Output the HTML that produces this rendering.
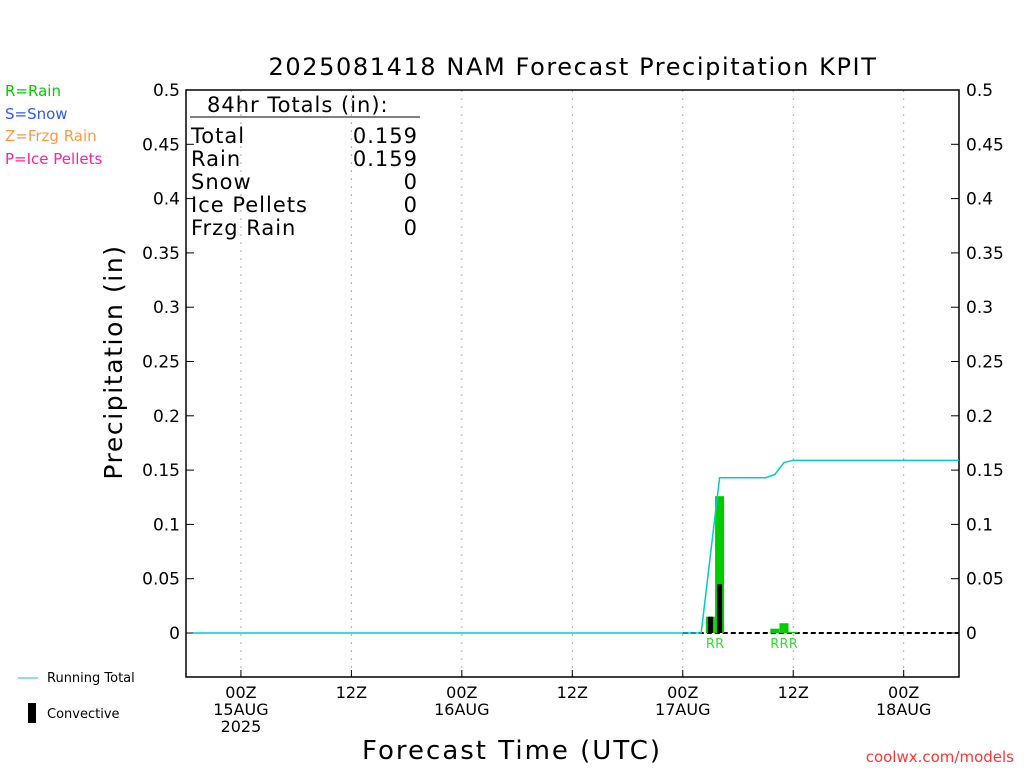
<!DOCTYPE html>
<html><head><meta charset="utf-8"><style>
body{margin:0;background:#fff;}
svg text{font-family:"DejaVu Sans","Liberation Sans",sans-serif;}
</style></head><body>
<svg width="1024" height="768" xmlns="http://www.w3.org/2000/svg" id="chart">
<text x="573" y="75" font-size="24" letter-spacing="1.6" text-anchor="middle">2025081418 NAM Forecast Precipitation KPIT</text>
<g font-size="15">
<text x="5" y="96" fill="#00cc00">R=Rain</text>
<text x="5" y="119" fill="#3355ff">S=Snow</text>
<text x="5" y="141" fill="#ff9944">Z=Frzg Rain</text>
<text x="5" y="164" fill="#ff2299">P=Ice Pellets</text>
</g>
<g id="grid"></g>
<rect x="186" y="90" width="773" height="587" fill="none" stroke="#000" stroke-width="1.5"/>
<g font-size="21" letter-spacing="1">
<text x="207" y="112">84hr Totals (in):</text>
<line x1="190" y1="117" x2="420" y2="117" stroke="#000"/>
<text x="191" y="143">Total</text><text x="418" y="143" text-anchor="end">0.159</text>
<text x="191" y="166">Rain</text><text x="418" y="166" text-anchor="end">0.159</text>
<text x="191" y="189">Snow</text><text x="418" y="189" text-anchor="end">0</text>
<text x="191" y="212">Ice Pellets</text><text x="418" y="212" text-anchor="end">0</text>
<text x="191" y="235">Frzg Rain</text><text x="418" y="235" text-anchor="end">0</text>
</g>
<g id="axes"></g>
<g id="marks"></g>
<text transform="translate(122,362) rotate(-90)" font-size="25" letter-spacing="1.6" text-anchor="middle">Precipitation (in)</text>
<text x="512" y="759" font-size="26" letter-spacing="2" text-anchor="middle">Forecast Time (UTC)</text>
<g font-size="13">
<line x1="18" y1="678" x2="38" y2="678" stroke="#00cccc"/>
<text x="47" y="682">Running Total</text>
<rect x="28" y="703" width="8" height="20" fill="#000"/>
<text x="47" y="718">Convective</text>
</g>
<text x="1014" y="762" font-size="15" fill="#ff3333" text-anchor="end">coolwx.com/models</text>
</svg>
<script>
const yTicks=[0,0.05,0.1,0.15,0.2,0.25,0.3,0.35,0.4,0.45,0.5];
const xTickHours=[6,18,30,42,54,66,78];
const xTickLabels=[["00Z","15AUG","2025"],["12Z"],["00Z","16AUG"],["12Z"],["00Z","17AUG"],["12Z"],["00Z","18AUG"]];
const barHours=[57,58,64,65,66];
const totalPrecip=[0.015,0.126,0.004,0.009,0.001];
const convPrecip=[0.015,0.045,0,0,0];
const barLabels=["R","R","R","R","R"];
const runHours=[0.8,56,58,63,64,65,66,84];
const runTotal=[0,0,0.143,0.143,0.146,0.157,0.159,0.159];
const X=h=>185.7+h*9.205, Y=v=>633-v*1086;
const ns="http://www.w3.org/2000/svg";
function mk(p,t,a){const e=document.createElementNS(ns,t);for(const k in a)e.setAttribute(k,a[k]);p.appendChild(e);return e;}
const grid=document.getElementById('grid'),axes=document.getElementById('axes'),marks=document.getElementById('marks');
xTickHours.forEach((h,i)=>{
 const l=mk(grid,'line',{x1:X(h),x2:X(h),y1:90,y2:677,stroke:'#aaa','stroke-dasharray':'2,6'});
 
 const t=mk(axes,'line',{x1:X(h),x2:X(h),y1:677,y2:670,stroke:'#000'});
 
 xTickLabels[i].forEach((s,j)=>{const tx=mk(axes,'text',{x:X(h),y:698+j*17,'font-size':16,'text-anchor':'middle'});tx.textContent=s;
 });
});
yTicks.forEach(v=>{
 [[186,194,180,'end'],[959,951,966,'start']].forEach(([a,b,tx,an])=>{
  const t=mk(axes,'line',{x1:a,x2:b,y1:Y(v),y2:Y(v),stroke:'#000'});
  
  const s=mk(axes,'text',{x:tx,y:Y(v)+6,'font-size':17,'text-anchor':an});s.textContent=String(v);
  
 });
});
const zl=mk(marks,'line',{x1:X(54),x2:959,y1:633,y2:633,stroke:'#000','stroke-width':2,'stroke-dasharray':'5,3'});

barHours.forEach((h,i)=>{
 const b=mk(marks,'rect',{x:X(h)-4.5,width:9,y:Y(totalPrecip[i]),height:Y(0)-Y(totalPrecip[i]),fill:'#00cc00'});
 
 if(convPrecip[i]>0){const c=mk(marks,'rect',{x:X(h)-2.5,width:5,y:Y(convPrecip[i]),height:Y(0)-Y(convPrecip[i]),fill:'#000'});
 }
 const t=mk(marks,'text',{x:X(h),y:648,'font-size':13,fill:'#33dd33','text-anchor':'middle'});t.textContent=barLabels[i];
 
});
const pl=mk(marks,'polyline',{points:runHours.map((h,i)=>X(h)+','+Y(runTotal[i])).join(' '),fill:'none',stroke:'#00cccc','stroke-width':1.5});

</script>
</body></html>
